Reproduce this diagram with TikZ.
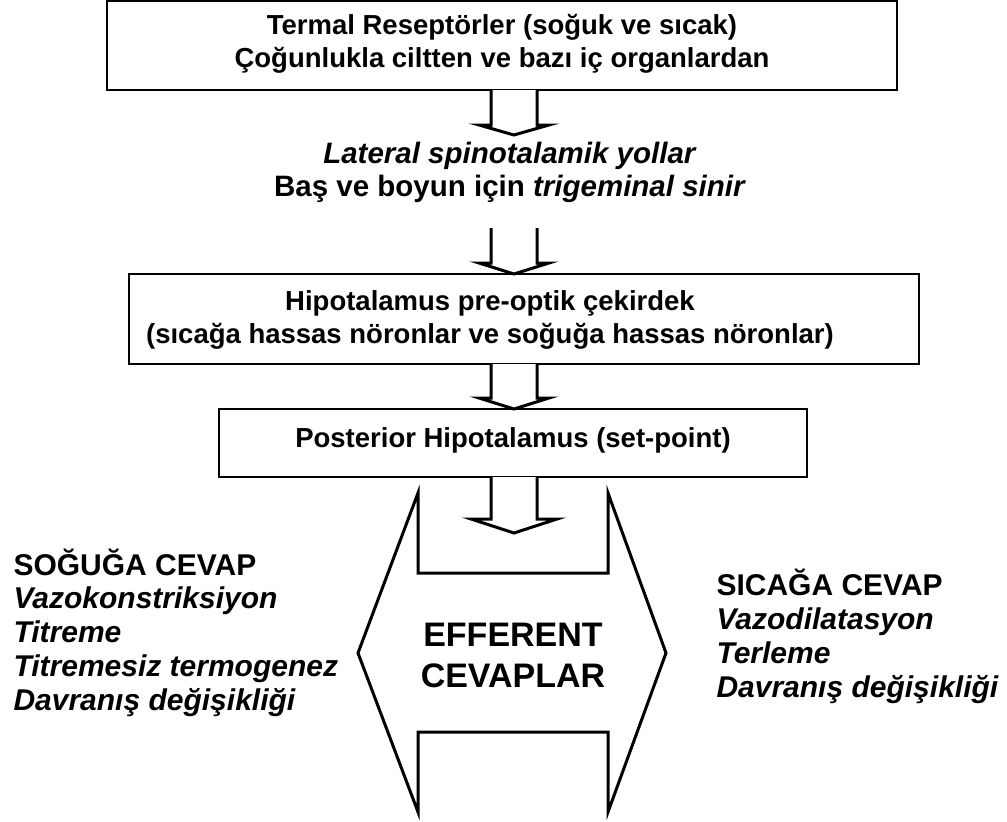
\documentclass[tikz,border=0pt]{standalone}
\usepackage{fontspec}
\setmainfont{Liberation Sans}
\usetikzlibrary{calc}

\tikzset{
	kutu/.style={draw, line width=2pt, inner sep=0pt, outer sep=0pt},
	kutuyazi/.style={anchor=base, align=center, font=\bfseries\fontsize{27.5}{33}\selectfont},
	yanyazi/.style={anchor=base west, align=left, font=\bfseries\fontsize{30}{33.7}\selectfont},
	blok/.style={draw, line width=3pt, fill=white, line join=miter},
}

\newcommand{\blokok}[4]{%
	\draw[blok] ($(#1)+(-\govde,0)$) -- ($(#2)+(-\govde,-#4)$) -- ($(#2)+(-#3,-#4)$) -- (#2)
	-- ($(#2)+(#3,-#4)$) -- ($(#2)+(\govde,-#4)$) -- ($(#1)+(\govde,0)$);}

\begin{document}
\begin{tikzpicture}[x=1pt, y=-1pt, line join=miter]
					\def \govde{23}
					\useasboundingbox (0,0) rectangle (1007,822);
					\coordinate (eksen) at (514,0);
					\coordinate (ok1) at (514,135);
					\coordinate (ok2) at (514,228);
					\coordinate (ok4) at (514,533);
					\node[kutu, minimum width=790pt, minimum height=89pt] (termal) at (502,45.5) {};
					\node[kutuyazi] (termalyazi) at (502,67) {Termal Reseptörler (soğuk ve sıcak)\\Çoğunlukla ciltten ve bazı iç organlardan};
					\node[kutuyazi, font=\bfseries\fontsize{29.5}{33}\selectfont] (lateral) at (510,196) {\textit{Lateral spinotalamik yollar}\\Baş ve boyun için \textit{trigeminal sinir}};
					\node[kutu, minimum width=790pt, minimum height=90pt] (hipo) at (524,319) {};
					\node[kutuyazi] (hipoyazi) at (490,343) {Hipotalamus pre-optik çekirdek\\(sıcağa hassas nöronlar ve soğuğa hassas nöronlar)};
					\node[kutu, minimum width=588pt, minimum height=68pt] (posteri) at (513,443) {};
					\node[kutuyazi] (posteriyazi) at (513,447) {Posterior Hipotalamus (set-point)};
					\draw[line width=3pt] (418,493) -- (418,573) -- (608,573) -- (608,493) -- (666,653) -- (608,812) -- (608,732) -- (418,732) -- (418,812) -- (358,653) -- cycle;
					\node[kutuyazi, font=\bfseries\fontsize{34}{41}\selectfont] (efferent) at (513,687) {EFFERENT\\CEVAPLAR};
					\node[yanyazi] (soguk) at (10,710) {SOĞUĞA CEVAP\\\textit{Vazokonstriksiyon}\\\textit{Titreme}\\\textit{Titremesiz termogenez}\\\textit{Davranış değişikliği}};
					\node[yanyazi] (sicak) at (713,697) {SICAĞA CEVAP\\\textit{Vazodilatasyon}\\\textit{Terleme}\\\textit{Davranış değişikliği}};
					\blokok{termal.south -| eksen}{ok1}{35}{10}
					\blokok{ok2}{hipo.north -| eksen}{35}{11}
					\blokok{hipo.south -| eksen}{posteri.north -| eksen}{35}{11}
					\blokok{posteri.south -| eksen}{ok4}{43}{14}
\end{tikzpicture}
\end{document}
